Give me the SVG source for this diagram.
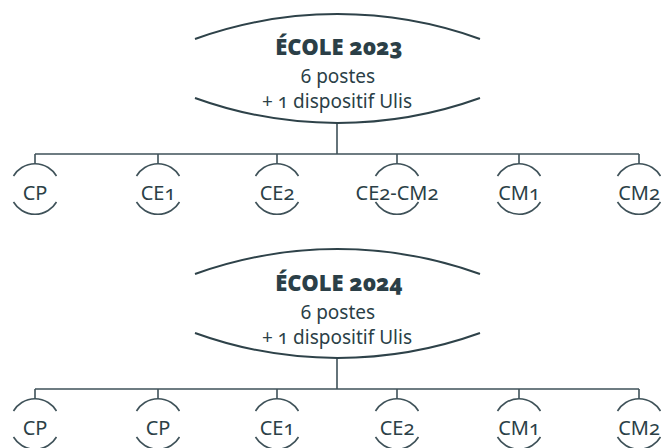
<svg xmlns="http://www.w3.org/2000/svg" width="662" height="448" viewBox="0 0 662 448">
<style>
.ln{fill:none;stroke:#3f5259;stroke-width:1.6}
.big{fill:none;stroke:#2e4249;stroke-width:2}
.t{font-family:"Noto Sans","Open Sans",sans-serif;fill:#2b3f47;text-anchor:middle;font-variant-numeric:oldstyle-nums;font-feature-settings:"onum" 1}
.h{font-size:22px;font-weight:900}
.s{font-size:19px}
.c{font-size:20px}
</style>
<defs>
<path id="ctop" class="ln" d="M-21.5,176 A25,25 0 0 1 21.5,176"/>
<path id="cbot" class="ln" d="M-21.5,202 A25,25 0 0 0 21.5,202"/>
</defs>
<g id="connectors">
<path class="ln" d="M337,123 V154 M35,154 H639 M35,154 V164 M158,154 V164 M277,154 V164 M397,154 V164 M519,154 V164 M639,154 V164"/>
<path class="ln" d="M337,358 V389 M35,389 H639 M35,389 V399 M158,389 V399 M277,389 V399 M397,389 V399 M519,389 V399 M639,389 V399"/>
</g>
<g id="ecole2023">
<path class="big" d="M195,39 A420,420 0 0 1 480,39"/>
<path class="big" d="M195,98 A420,420 0 0 0 480,98"/>
<text class="t h" x="339" y="55">ÉCOLE 2023</text>
<text class="t s" x="338" y="83">6 postes</text>
<text class="t s" x="337" y="108">+ 1 dispositif Ulis</text>
</g>
<g id="n1-cp"><use href="#ctop" x="35" y="0"/><use href="#cbot" x="35" y="0"/><text class="t c" x="35" y="200">CP</text></g>
<g id="n1-ce1"><use href="#ctop" x="158" y="0"/><use href="#cbot" x="158" y="0"/><text class="t c" x="158" y="200">CE1</text></g>
<g id="n1-ce2"><use href="#ctop" x="277" y="0"/><use href="#cbot" x="277" y="0"/><text class="t c" x="277" y="200">CE2</text></g>
<g id="n1-ce2cm2"><use href="#ctop" x="397" y="0"/><use href="#cbot" x="397" y="0"/><text class="t c" x="397" y="200">CE2-CM2</text></g>
<g id="n1-cm1"><use href="#ctop" x="519" y="0"/><use href="#cbot" x="519" y="0"/><text class="t c" x="519" y="200">CM1</text></g>
<g id="n1-cm2"><use href="#ctop" x="639" y="0"/><use href="#cbot" x="639" y="0"/><text class="t c" x="639" y="200">CM2</text></g>
<g id="ecole2024">
<path class="big" d="M195,274 A420,420 0 0 1 480,274"/>
<path class="big" d="M195,333 A420,420 0 0 0 480,333"/>
<text class="t h" x="339" y="291">ÉCOLE 2024</text>
<text class="t s" x="338" y="319">6 postes</text>
<text class="t s" x="337" y="344">+ 1 dispositif Ulis</text>
</g>
<g id="n2-cp1"><use href="#ctop" x="35" y="235"/><use href="#cbot" x="35" y="235"/><text class="t c" x="35" y="435">CP</text></g>
<g id="n2-cp2"><use href="#ctop" x="158" y="235"/><use href="#cbot" x="158" y="235"/><text class="t c" x="158" y="435">CP</text></g>
<g id="n2-ce1"><use href="#ctop" x="277" y="235"/><use href="#cbot" x="277" y="235"/><text class="t c" x="277" y="435">CE1</text></g>
<g id="n2-ce2"><use href="#ctop" x="397" y="235"/><use href="#cbot" x="397" y="235"/><text class="t c" x="397" y="435">CE2</text></g>
<g id="n2-cm1"><use href="#ctop" x="519" y="235"/><use href="#cbot" x="519" y="235"/><text class="t c" x="519" y="435">CM1</text></g>
<g id="n2-cm2"><use href="#ctop" x="639" y="235"/><use href="#cbot" x="639" y="235"/><text class="t c" x="639" y="435">CM2</text></g>
</svg>
